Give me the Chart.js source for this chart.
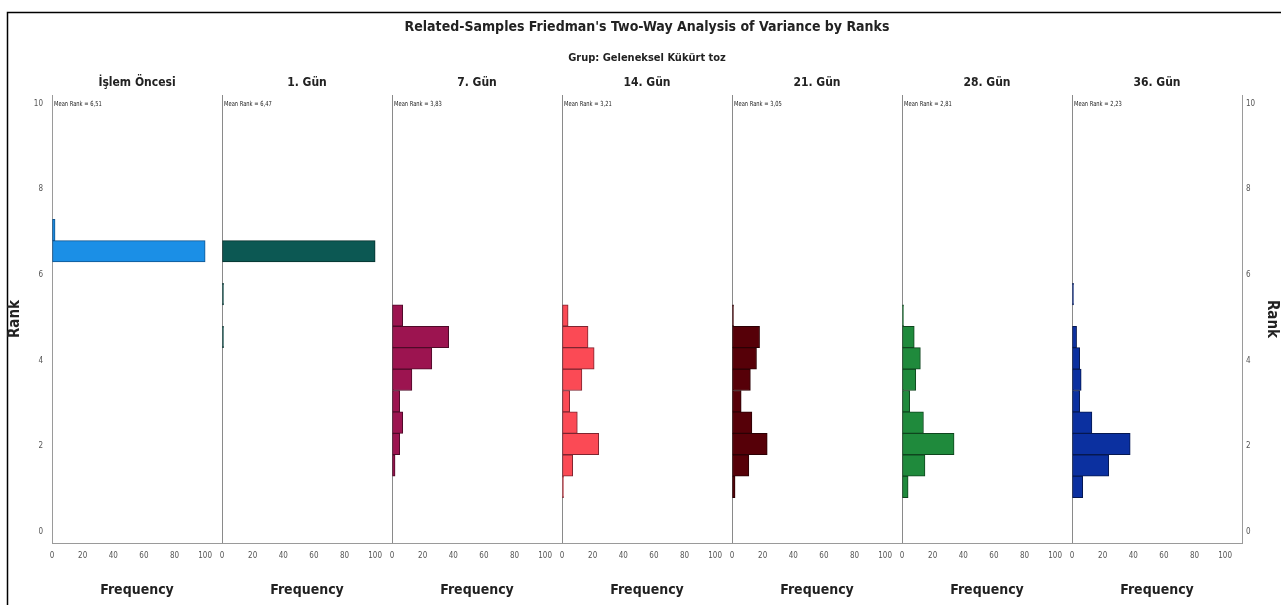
<!DOCTYPE html>
<html>
<head>
<meta charset="utf-8">
<script src="https://cdn.jsdelivr.net/npm/chart.js@4.4.1/dist/chart.umd.min.js"></script>
<style>
  body { margin: 0; background: #fff; }
  canvas { display: block; }
</style>
</head>
<body>
<canvas id="friedman" width="1281" height="605"></canvas>
<script>
const FONT = "'Liberation Sans Narrow', 'DejaVu Sans Condensed', 'Liberation Sans', sans-serif";

const chartTitle = "Related-Samples Friedman's Two-Way Analysis of Variance by Ranks";
const subTitle = "Grup: Geleneksel Kükürt toz";

// rank bins (bar centres, width 0.5)
const rankBins = [1.05, 1.55, 2.05, 2.55, 3.05, 3.55, 4.05, 4.55, 5.05, 5.55, 6.05, 6.55, 7.05];

const groups = ["İşlem Öncesi", "1. Gün", "7. Gün", "14. Gün", "21. Gün", "28. Gün", "36. Gün"];
const meanRanks = [6.51, 6.47, 3.83, 3.21, 3.05, 2.81, 2.23];

// frequencies per rank bin, one array per group
const freqOncesi = [0, 0, 0, 0, 0, 0, 0, 0, 0, 0, 0, 100, 2];
const freqGun1   = [0, 0, 0, 0, 0, 0, 0, 1, 0, 1, 0, 100, 0];
const freqGun7   = [0, 2, 5, 7, 5, 13, 26, 37, 7, 0, 0, 0, 0];
const freqGun14  = [1, 7, 24, 10, 5, 13, 21, 17, 4, 0, 0, 0, 0];
const freqGun21  = [2, 11, 23, 13, 6, 12, 16, 18, 1, 0, 0, 0, 0];
const freqGun28  = [4, 15, 34, 14, 5, 9, 12, 8, 1, 0, 0, 0, 0];
const freqGun36  = [7, 24, 38, 13, 5, 6, 5, 3, 0, 1, 0, 0, 0];

const freqTicks = [0, 20, 40, 60, 80, 100];
const rankTicks = [0, 2, 4, 6, 8, 10];

const allFreq = [freqOncesi, freqGun1, freqGun7, freqGun14, freqGun21, freqGun28, freqGun36];
const fillColors = ["#1b8fe6", "#0c5853", "#9c1450", "#fb4a55", "#560008", "#1f8a3c", "#0b30a0"];
const edgeColors = ["#10558f", "#06302d", "#4e0a28", "#7d2530", "#2b0004", "#0f451e", "#061850"];

const datasets = allFreq.map(function (arr, i) {
  return {
    label: groups[i],
    data: arr.map(function (v, k) { return {x: v, y: rankBins[k]}; }),
    xAxisID: "x" + i,
    yAxisID: "y",
    backgroundColor: fillColors[i],
    borderColor: edgeColors[i],
    borderWidth: 1,
    borderSkipped: false,
    grouped: false,
    barPercentage: 1,
    categoryPercentage: 1,
  };
});

function rankAxis(pos, w, pad, titlePad) {
  return {
    type: "linear",
    position: pos,
    min: -0.26,
    max: 10.2,
    offset: false,
    afterBuildTicks: function (s) { s.ticks = rankTicks.map(function (v) { return {value: v}; }); },
    afterFit: function (s) { s.width = w; },
    grid: { display: false, offset: false, drawTicks: false },
    border: { display: true, color: "#9a9a9a", width: 1 },
    ticks: { font: { size: 8 }, color: "#555", padding: pad },
    title: { display: true, text: "Rank", color: "#222", font: { size: 15, weight: "bold" }, padding: titlePad },
  };
}

const scales = {
  y: rankAxis("left", 52, 9, { top: 6, bottom: 0 }),
  yRight: rankAxis("right", 39, 4, { top: 0, bottom: 0 }),
};

groups.forEach(function (g, i) {
  scales["x" + i] = {
    type: "linear",
    position: "bottom",
    stack: "freq",
    stackWeight: 1,
    min: 0,
    max: 111,
    afterBuildTicks: function (s) { s.ticks = freqTicks.map(function (v) { return {value: v}; }); },
    afterFit: function (s) { s.height = 62; },
    grid: {
      drawTicks: false,
      color: function (c) { return c.tick && c.tick.value === 0 ? "#8a8a8a" : "rgba(0,0,0,0)"; },
    },
    border: { display: true, color: "#9a9a9a", width: 1 },
    ticks: { autoSkip: false, maxRotation: 0, minRotation: 0, font: { size: 8 }, color: "#555", padding: 8 },
    title: { display: true, text: "Frequency", color: "#222", font: { size: 14, weight: "bold" }, padding: { top: 0, bottom: 6 } },
  };
});

// titles, panel names, mean rank notes and outer frame
const panelText = {
  id: "panelText",
  beforeDraw: function (chart) {
    const ctx = chart.ctx;
    ctx.save();
    ctx.strokeStyle = "#000";
    ctx.lineWidth = 1.5;
    ctx.beginPath();
    ctx.moveTo(7.5, chart.height);
    ctx.lineTo(7.5, 12.5);
    ctx.lineTo(chart.width, 12.5);
    ctx.stroke();
    ctx.restore();
  },
  afterDraw: function (chart) {
    const ctx = chart.ctx;
    const area = chart.chartArea;
    const midX = (area.left + area.right) / 2;
    ctx.save();
    ctx.fillStyle = "#222";
    ctx.textBaseline = "middle";
    ctx.textAlign = "center";
    ctx.font = "bold 14px " + FONT;
    ctx.fillText(chartTitle, midX, 27);
    ctx.font = "bold 11px " + FONT;
    ctx.fillText(subTitle, midX, 58);
    const yTop = chart.scales.y.getPixelForValue(10);
    groups.forEach(function (g, i) {
      const sc = chart.scales["x" + i];
      ctx.textAlign = "center";
      ctx.font = "bold 12px " + FONT;
      ctx.fillText(g, (sc.left + sc.right) / 2, 83);
      // mean rank note, slightly squeezed like the original
      ctx.save();
      ctx.translate(sc.left + 2, yTop + 1);
      ctx.scale(0.82, 1);
      ctx.textAlign = "left";
      ctx.font = "7px " + FONT;
      ctx.fillText("Mean Rank = " + meanRanks[i].toFixed(2).replace(".", ","), 0, 0);
      ctx.restore();
    });
    ctx.restore();
  },
};

Chart.defaults.font.family = FONT;

const ctx = document.getElementById("friedman").getContext("2d");
const myChart = new Chart(ctx, {
  type: "bar",
  data: { labels: rankBins, datasets: datasets },
  options: {
    indexAxis: "y",
    responsive: false,
    animation: false,
    devicePixelRatio: 1,
    layout: { padding: { top: 95, left: 0, right: 0, bottom: 0 } },
    scales: scales,
    plugins: {
      legend: { display: false },
      tooltip: { enabled: false },
    },
  },
  plugins: [panelText],
});
</script>
</body>
</html>
